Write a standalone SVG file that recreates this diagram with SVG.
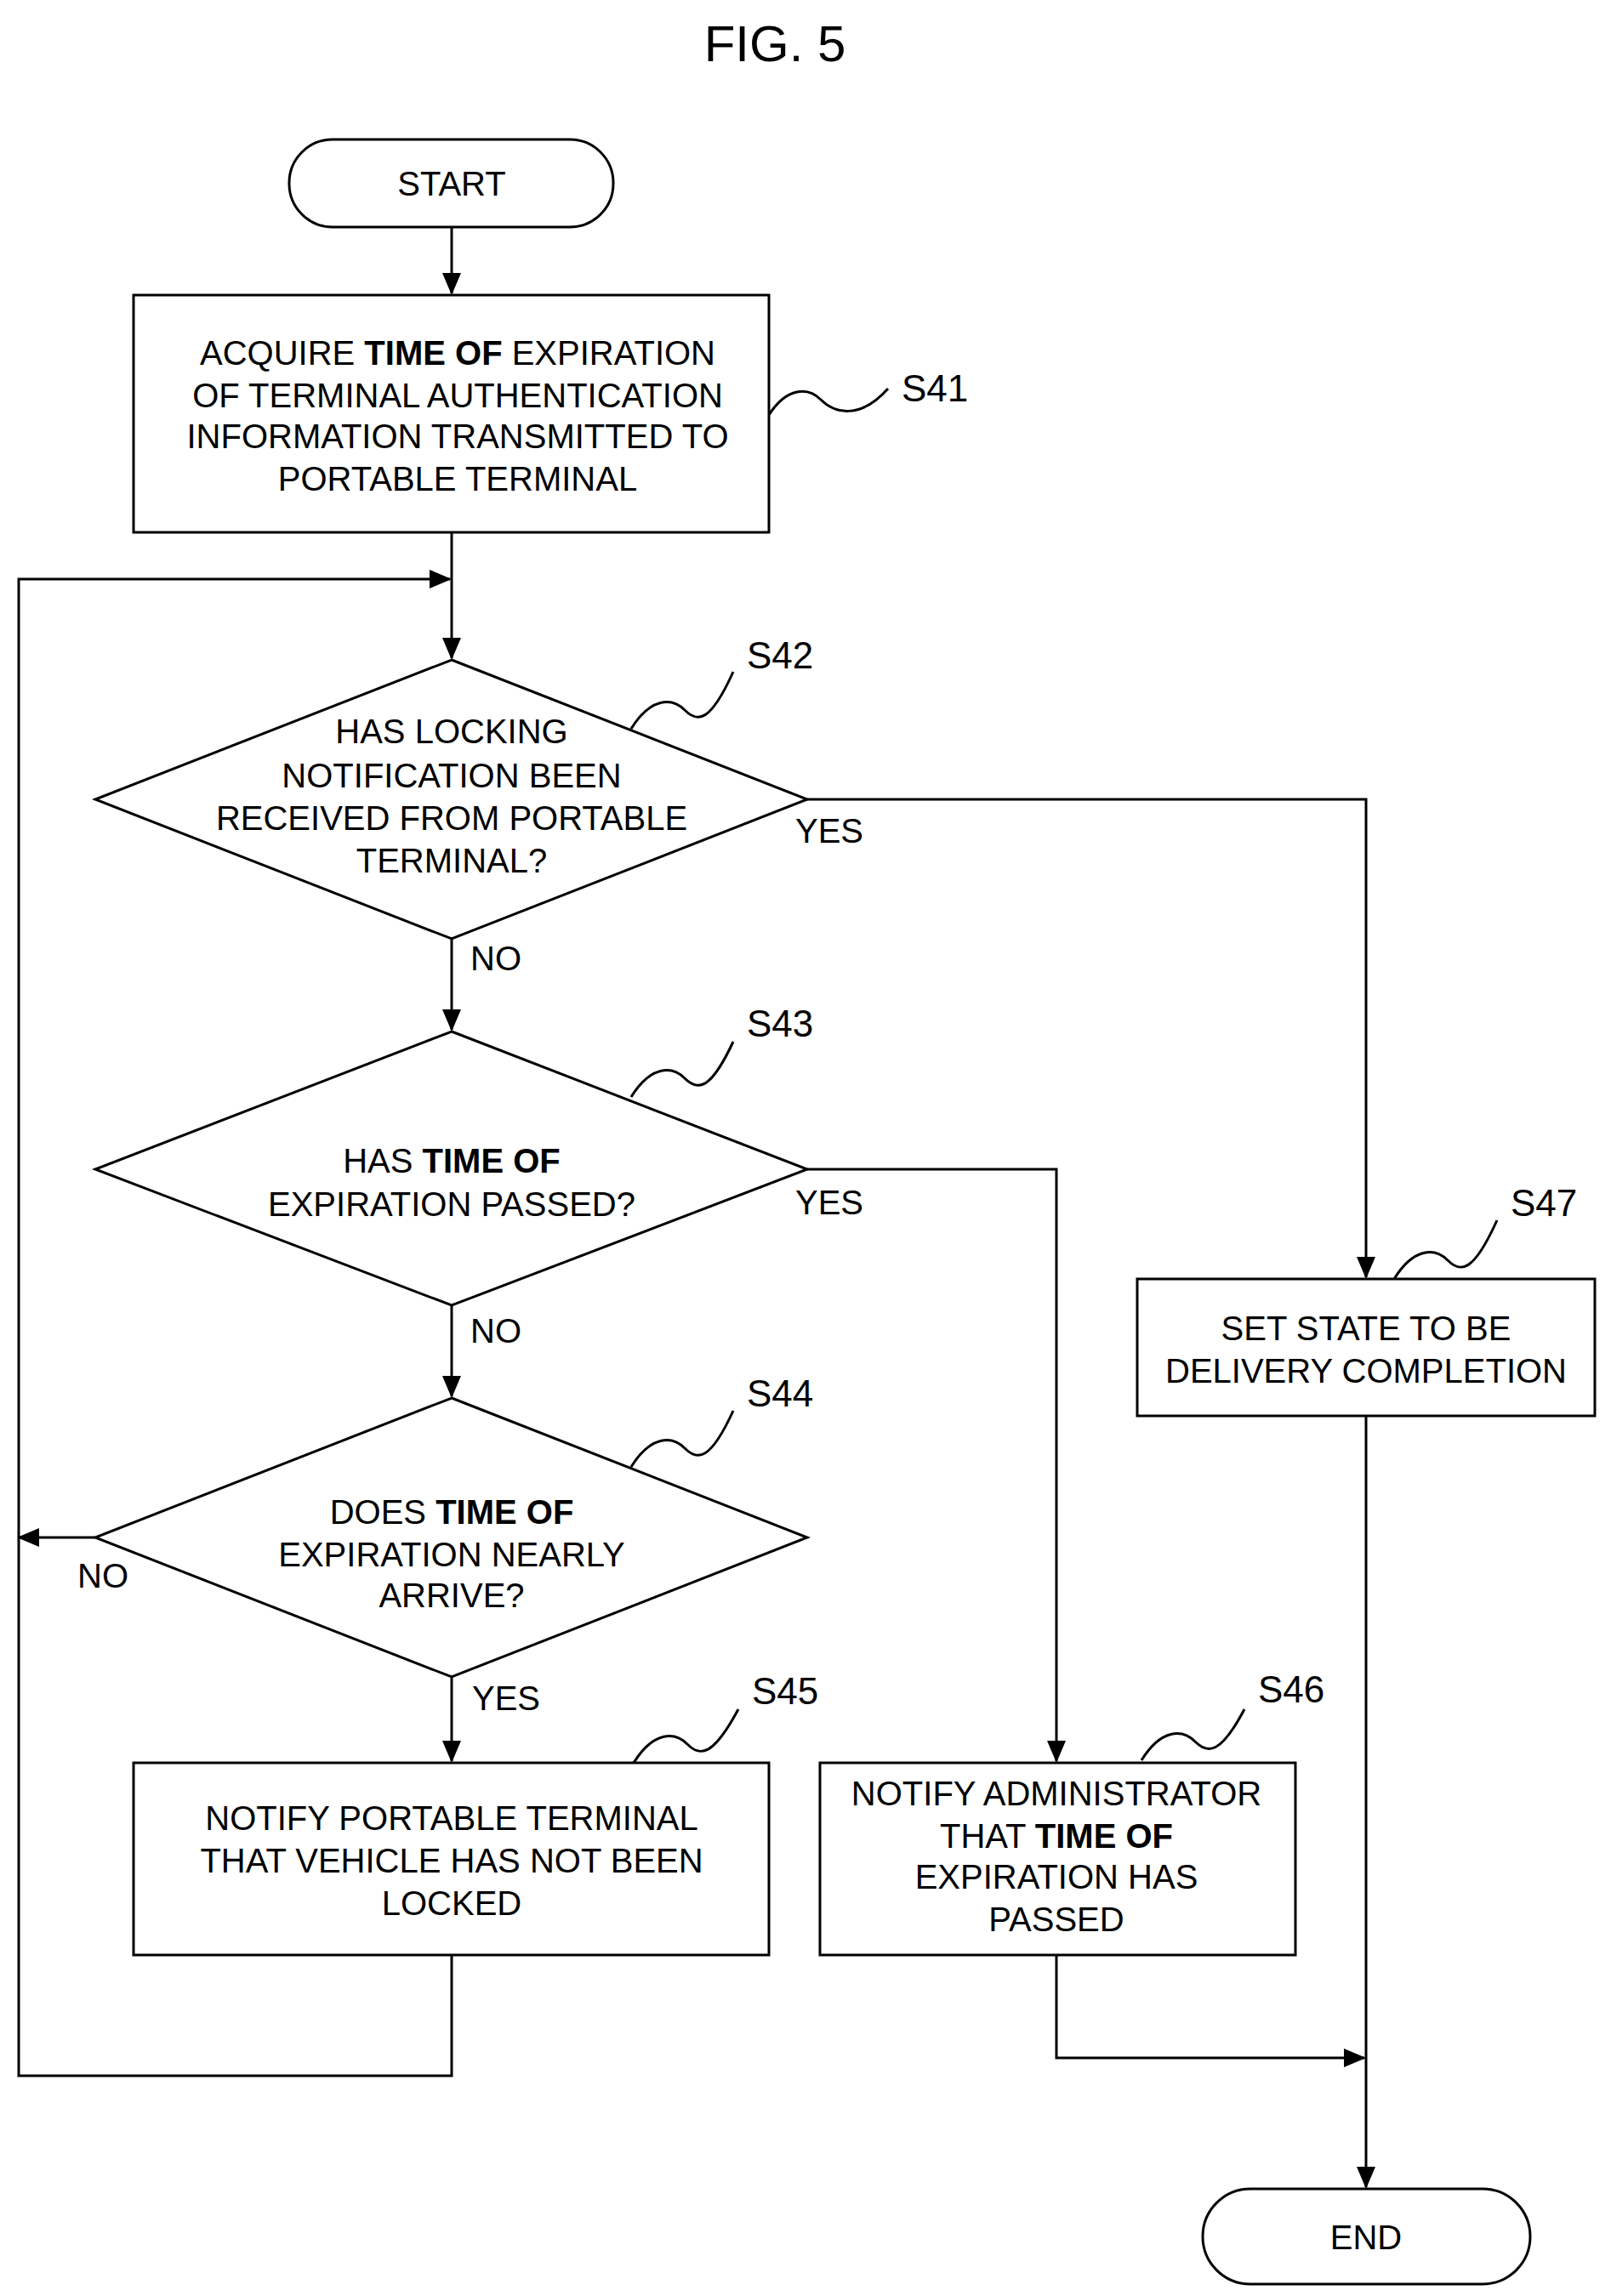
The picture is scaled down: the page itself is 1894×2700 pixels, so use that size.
<svg xmlns="http://www.w3.org/2000/svg" width="1894" height="2700" viewBox="0 0 1894 2700">
<defs>
<marker id="ah" markerWidth="10" markerHeight="10" refX="9" refY="5" orient="auto" markerUnits="userSpaceOnUse" viewBox="0 0 10 10"><path d="M0,0 L10,5 L0,10 z" fill="#000"/></marker>
<style>
.s{fill:#fff;stroke:#000;stroke-width:3}
.c{fill:none;stroke:#000;stroke-width:3}
.a{marker-end:url(#ah)}
text{font-family:"Liberation Sans",Arial,sans-serif;font-size:40px;fill:#000;text-anchor:middle}
.l{text-anchor:start;font-size:44px}
.b{font-weight:bold}
</style>
<marker id="ah2" markerWidth="26" markerHeight="22" refX="24" refY="11" orient="auto" markerUnits="userSpaceOnUse"><path d="M0,0 L26,11 L0,22 z" fill="#000"/></marker>
</defs>
<rect width="1894" height="2700" fill="#fff"/>
<text x="911" y="72" style="font-size:60px">FIG. 5</text>
<g id="start"><rect class="s" x="340" y="164" width="381" height="103" rx="51"/><text x="531" y="230">START</text></g>
<g id="s41"><rect class="s" x="157" y="347" width="747" height="279"/>
<text x="538" y="429">ACQUIRE <tspan class="b">TIME OF</tspan> EXPIRATION</text>
<text x="538" y="479">OF TERMINAL AUTHENTICATION</text>
<text x="538" y="527">INFORMATION TRANSMITTED TO</text>
<text x="538" y="577">PORTABLE TERMINAL</text>
<path class="c" d="M904,488 C925,455 950,455 965,470 S1010,495 1044,457"/><text class="l" x="1060" y="472">S41</text></g>
<g id="s42"><polygon class="s" points="531,776 949,940 531,1104 112,940"/>
<text x="531" y="874">HAS LOCKING</text><text x="531" y="926">NOTIFICATION BEEN</text><text x="531" y="976">RECEIVED FROM PORTABLE</text><text x="531" y="1026">TERMINAL?</text>
<path class="c" d="M742,857 C765,820 790,820 805,835 S835,850 862,790"/><text class="l" x="878" y="786">S42</text></g>
<g id="s43"><polygon class="s" points="531,1213 949,1375 531,1535 112,1375"/>
<text x="531" y="1379"><tspan>HAS </tspan><tspan class="b">TIME OF</tspan></text><text x="531" y="1430">EXPIRATION PASSED?</text>
<path class="c" d="M742,1290 C765,1253 790,1253 805,1268 S835,1283 862,1225"/><text class="l" x="878" y="1219">S43</text></g>
<g id="s44"><polygon class="s" points="531,1644 949,1808 531,1972 112,1808"/>
<text x="531" y="1792">DOES <tspan class="b">TIME OF</tspan></text><text x="531" y="1842">EXPIRATION  NEARLY</text><text x="531" y="1890">ARRIVE?</text>
<path class="c" d="M742,1725 C765,1688 790,1688 805,1703 S835,1718 862,1659"/><text class="l" x="878" y="1654">S44</text></g>
<g id="s45"><rect class="s" x="157" y="2073" width="747" height="226"/>
<text x="531" y="2152">NOTIFY PORTABLE TERMINAL</text><text x="531" y="2202">THAT VEHICLE HAS NOT BEEN</text><text x="531" y="2252">LOCKED</text>
<path class="c" d="M745,2073 C768,2036 793,2036 808,2051 S838,2066 868,2010"/><text class="l" x="884" y="2004">S45</text></g>
<g id="s46"><rect class="s" x="964" y="2073" width="559" height="226"/>
<text x="1242" y="2123">NOTIFY ADMINISTRATOR</text><text x="1242" y="2173">THAT <tspan class="b">TIME OF</tspan></text><text x="1242" y="2221">EXPIRATION HAS</text><text x="1242" y="2271">PASSED</text>
<path class="c" d="M1342,2070 C1365,2033 1390,2033 1405,2048 S1435,2063 1463,2010"/><text class="l" x="1479" y="2002">S46</text></g>
<g id="s47"><rect class="s" x="1337" y="1504" width="538" height="161"/>
<text x="1606" y="1576">SET STATE TO BE</text><text x="1606" y="1626">DELIVERY COMPLETION</text>
<path class="c" d="M1639,1504 C1662,1467 1687,1467 1702,1482 S1732,1497 1760,1435"/><text class="l" x="1776" y="1430">S47</text></g>
<g id="end"><rect class="s" x="1414" y="2574" width="385" height="112" rx="56"/><text x="1606" y="2645">END</text></g>
<g id="connectors">
<line class="c" x1="531" y1="267" x2="531" y2="345" marker-end="url(#ah2)"/>
<line class="c" x1="531" y1="626" x2="531" y2="774" marker-end="url(#ah2)"/>
<line class="c" x1="531" y1="1104" x2="531" y2="1211" marker-end="url(#ah2)"/>
<line class="c" x1="531" y1="1535" x2="531" y2="1642" marker-end="url(#ah2)"/>
<line class="c" x1="531" y1="1972" x2="531" y2="2071" marker-end="url(#ah2)"/>
<polyline class="c" points="949,940 1606,940 1606,1502" marker-end="url(#ah2)"/>
<polyline class="c" points="949,1375 1242,1375 1242,2071" marker-end="url(#ah2)"/>
<line class="c" x1="112" y1="1808" x2="22" y2="1808" marker-end="url(#ah2)"/>
<polyline class="c" points="531,2299 531,2441 22,2441 22,681 529,681" marker-end="url(#ah2)"/>
<polyline class="c" points="1242,2299 1242,2420 1604,2420" marker-end="url(#ah2)"/>
<line class="c" x1="1606" y1="1665" x2="1606" y2="2572" marker-end="url(#ah2)"/>
<text x="975" y="991">YES</text><text x="583" y="1141">NO</text>
<text x="975" y="1428">YES</text><text x="583" y="1579">NO</text>
<text x="121" y="1867">NO</text><text x="595" y="2011">YES</text>
</g>
</svg>
